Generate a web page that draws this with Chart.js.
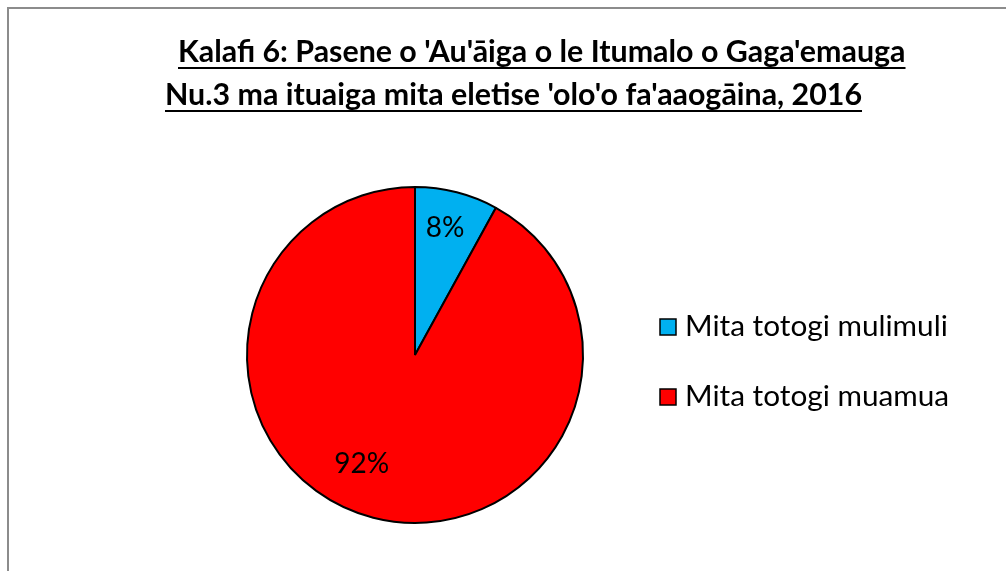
<!DOCTYPE html>
<html>
<head>
<meta charset="utf-8">
<script src="https://cdn.jsdelivr.net/npm/chart.js@4.4.0/dist/chart.umd.min.js"></script>
<style>
  html, body { margin: 0; padding: 0; background: #fff; }
  #wrap { position: relative; width: 1006px; height: 571px; }
</style>
</head>
<body>
<div id="wrap"><canvas id="pieChart" width="1006" height="571"></canvas></div>
<script>
const titleLines = [
    "Kalafi 6: Pasene o 'Au'āiga o le Itumalo o Gaga'emauga",
    "Nu.3 ma ituaiga mita eletise 'olo'o fa'aaogāina, 2016"
]
const categories = ['Mita totogi mulimuli', 'Mita totogi muamua']
const percents = [8, 92]
const sliceColors = ['#00B0F0', '#FF0000']

const FONT = 'Lato, "Liberation Sans", sans-serif'

// font size that makes text span the wanted width
const fitSize = (c, text, weight, target) => {
    c.font = weight + ' 20px ' + FONT
    return 20 * target / c.measureText(text).width
}

// frame, title, legend and percent labels
const decorPlugin = {
    id: 'decor',
    beforeDraw(chart) {
        const c = chart.ctx
        c.save()
        c.fillStyle = '#fff'
        c.fillRect(0, 0, chart.width, chart.height)
        c.strokeStyle = '#8c8c8c'
        c.lineWidth = 2
        c.strokeRect(8, 8, chart.width + 10, chart.height + 10)
        c.restore()
    },
    afterDraw(chart) {
        const c = chart.ctx
        c.save()

        // title
        c.fillStyle = '#000'
        const tSize = fitSize(c, titleLines[0], 'bold', 728)
        c.font = 'bold ' + tSize + 'px ' + FONT
        c.textAlign = 'left'
        c.textBaseline = 'alphabetic'
        const lefts = [178, 165]
        const baselines = [62, 105]
        titleLines.forEach((t, i) => {
            c.fillText(t, lefts[i], baselines[i])
            const w = c.measureText(t).width
            c.fillRect(lefts[i], baselines[i] + 5, w, 2)
        })

        // percent labels
        const meta = chart.getDatasetMeta(0)
        const nudge = [[-2, -2], [-21, -16]]
        c.font = '28px ' + FONT
        c.textAlign = 'center'
        c.textBaseline = 'middle'
        meta.data.forEach((arc, i) => {
            const mid = (arc.startAngle + arc.endAngle) / 2
            const r = arc.outerRadius * 0.77
            c.fillText(percents[i] + '%',
                arc.x + Math.cos(mid) * r + nudge[i][0],
                arc.y + Math.sin(mid) * r + nudge[i][1])
        })

        // legend
        const lSize = fitSize(c, categories[0], '', 263)
        c.font = lSize + 'px ' + FONT
        c.textAlign = 'left'
        c.textBaseline = 'alphabetic'
        categories.forEach((lab, i) => {
            const base = 336 + i * 70
            c.fillStyle = sliceColors[i]
            c.fillRect(660, base - 17, 16, 16)
            c.strokeStyle = '#000'
            c.lineWidth = 1.5
            c.strokeRect(660, base - 17, 16, 16)
            c.fillStyle = '#000'
            c.fillText(lab, 685, base)
        })
        c.restore()
    }
}

const ctx = document.getElementById('pieChart').getContext('2d')

const pieChart = new Chart(ctx, {
    type: 'pie',
    data: {
        labels: categories,
        datasets: [{
            data: percents,
            backgroundColor: sliceColors,
            borderColor: '#000',
            borderWidth: 2
        }]
    },
    options: {
        responsive: false,
        animation: false,
        layout: {
            padding: { left: 246, right: 422, top: 186, bottom: 47 }
        },
        plugins: {
            legend: { display: false },
            title: { display: false },
            tooltip: { enabled: false }
        }
    },
    plugins: [decorPlugin]
})
</script>
</body>
</html>
